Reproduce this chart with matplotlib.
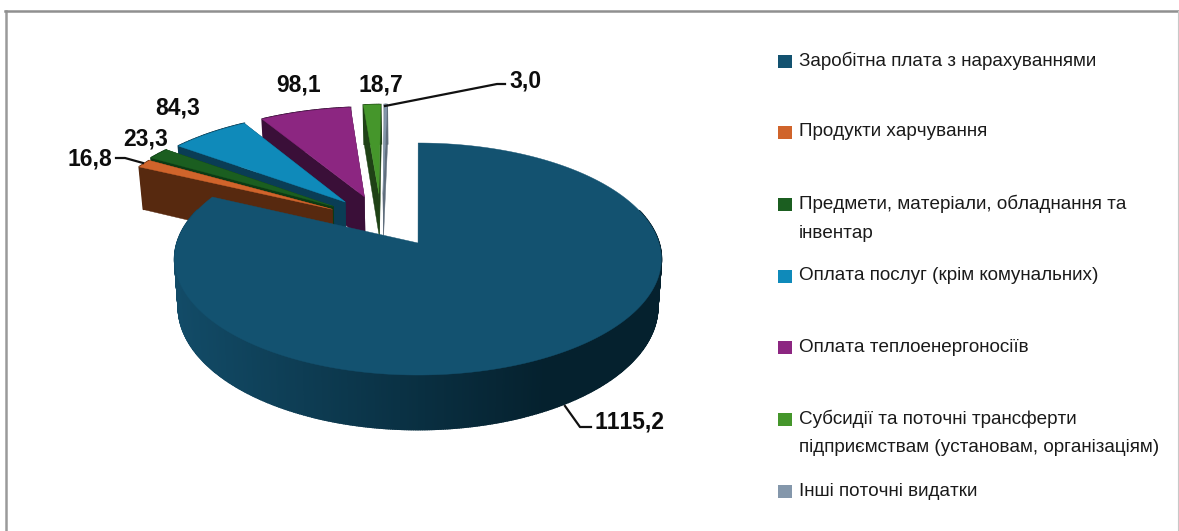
import numpy as np
import matplotlib
matplotlib.use("Agg")
import matplotlib.pyplot as plt
from matplotlib.colors import to_rgb

plt.rcParams["text.kerning_factor"] = 6

# data
values = [1115.2, 16.8, 23.3, 84.3, 98.1, 18.7, 3.0]
value_labels = ["1115,2", "16,8", "23,3", "84,3", "98,1", "18,7", "3,0"]
legend_labels = [
    "Заробітна плата з нарахуваннями",
    "Продукти харчування",
    "Предмети, матеріали, обладнання та\nінвентар",
    "Оплата послуг (крім комунальних)",
    "Оплата теплоенергоносіїв",
    "Субсидії та поточні трансферти\nпідприємствам (установам, організаціям)",
    "Інші поточні видатки",
]
colors = ["#135270", "#D0642B", "#1B5E20", "#0F8ABA", "#8C2681", "#45962B", "#8497AB"]
wall_colors = ["#0b3a50", "#57290F", "#0C3A14", "#0A3D55", "#3A0F38", "#1F4216", "#5f6d7c"]

# how far each slice is pulled out of the pie (disc units)
explode_u = [-0.004, -0.375, -0.372, -0.322, -0.240, -0.177, -0.159]
explode_v = [0.0, 0.309, 0.337, 0.379, 0.430, 0.461, 0.461]

# fake 3d projection of the disc, in pixels
cx, cy = 419, 243
B, A, k = 241, 113.8, 0.138
D = 47


def project(u, v, z=0):
    den = 1 + k * v
    x = cx + B * u / den * (1 - 0.015 * z)
    y = cy - A * v / den + z * D / den
    return x, y


def edge(a, du, dv, z=0):
    return project(np.sin(a) + du, np.cos(a) + dv, z)


def mix(c1, c2, t):
    c1, c2 = np.array(to_rgb(c1)), np.array(to_rgb(c2))
    return tuple(c1 + (c2 - c1) * t)


fig = plt.figure(figsize=(11.79, 5.31), dpi=100)
ax = fig.add_axes([0, 0, 1, 1])
ax.set_xlim(0, 1179)
ax.set_ylim(531, 0)
ax.axis("off")

# chart frame
ax.plot([6, 6], [531, 10.5], color="#9a9a9a", lw=1.8, zorder=1)
ax.plot([5, 1179], [10.5, 10.5], color="#909090", lw=1.8, zorder=1)
ax.plot([1178, 1178], [11, 531], color="#c8c8c8", lw=0.8, zorder=1)

total = sum(values)
starts = np.cumsum([0] + values[:-1]) / total * 2 * np.pi
sweeps = np.array(values) / total * 2 * np.pi

# back slices first, the big one last
order = [6, 5, 4, 3, 2, 1, 0]
z = 2
for i in order:
    du, dv = explode_u[i], explode_v[i]
    a = np.linspace(starts[i], starts[i] + sweeps[i], max(int(sweeps[i] * 120), 4))
    ax0, ay0 = project(du, dv)
    bx0, by0 = project(du, dv, 1)
    tx, ty = edge(a, du, dv)
    bx, by = edge(a, du, dv, 1)

    if i != 0:
        # radial walls
        ax.fill([ax0, tx[-1], bx[-1], bx0], [ay0, ty[-1], by[-1], by0],
                color=wall_colors[i], lw=0.3, zorder=z)
        ax.fill([ax0, tx[0], bx[0], bx0], [ay0, ty[0], by[0], by0],
                color=wall_colors[i], lw=0.3, zorder=z)

    # outer wall, shaded by x on the big slice
    for j in range(len(a) - 1):
        if i == 0:
            # the back half of the rim cannot be seen
            if np.cos(a[j]) > 0.3:
                continue
            t = np.clip((tx[j] - 176) / 370, 0, 1)
            c = mix("#124B67", "#05212E", t)
        else:
            c = wall_colors[i]
        ax.fill([tx[j], tx[j + 1], bx[j + 1], bx[j]], [ty[j], ty[j + 1], by[j + 1], by[j]],
                color=c, lw=1.2, zorder=z)

    ax.fill(np.r_[ax0, tx], np.r_[ay0, ty], color=colors[i], lw=0.3, zorder=z + 1)
    z += 2

# value labels
label_x = [629, 90, 146, 178, 299, 381, 525]
label_y = [422, 159, 139, 108, 85, 85, 81]
for s, x, y in zip(value_labels, label_x, label_y):
    ax.text(x, y, s, ha="center", va="center", fontsize=16.5, fontweight="bold",
            family="Liberation Sans", color="#0d0d0d", zorder=30)

# leader lines
ax.plot([116, 125, 143], [158, 158, 163], color="#111111", lw=1.6, zorder=29)
ax.plot([385, 497, 505], [106, 84, 84], color="#111111", lw=1.6, zorder=29)
ax.plot([565, 580, 591], [406, 427, 427], color="#111111", lw=1.6, zorder=29)

# legend
legend_y = [61, 132, 204, 276, 347, 419, 491]
for s, c, y in zip(legend_labels, colors, legend_y):
    ax.add_patch(plt.Rectangle((778, y - 6.5), 14, 13, color=c, lw=0, zorder=5))
    for n, line in enumerate(s.split("\n")):
        ax.text(799, y + n * 29, line, ha="left", va="center", fontsize=13.6,
                family="Liberation Sans", color="#1a1a1a", zorder=5)

fig.savefig("out.png", dpi=100)
